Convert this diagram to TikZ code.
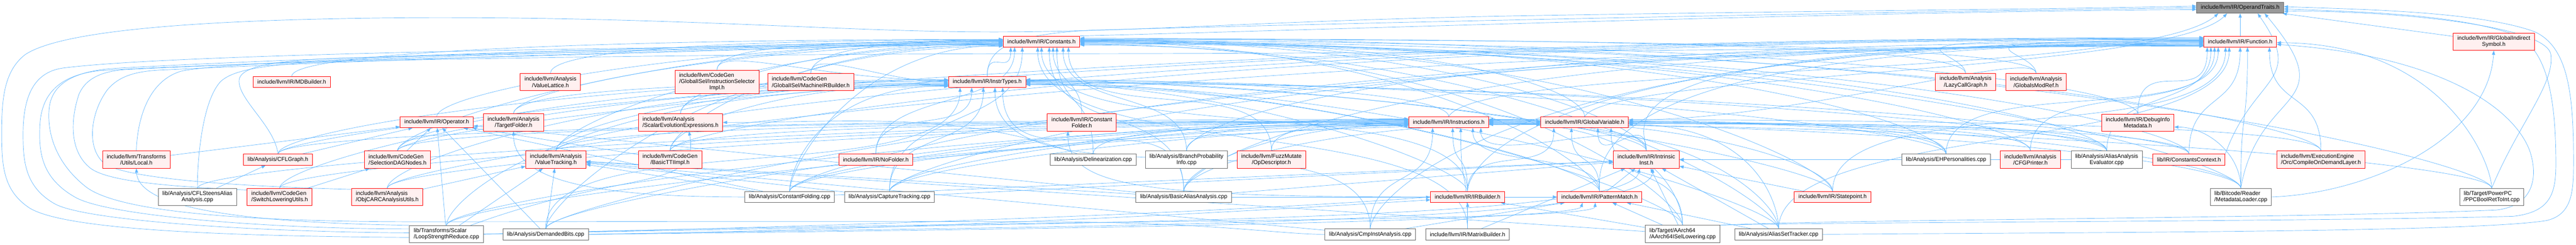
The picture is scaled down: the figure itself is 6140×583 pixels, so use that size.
\documentclass[tikz,border=0pt]{standalone}
\usepackage{fontspec}
\setmainfont{Liberation Sans}
\usetikzlibrary{arrows.meta,calc}
\pgfdeclarelayer{bgfill}
\pgfdeclarelayer{edges}
\pgfsetlayers{bgfill,edges,main}
\definecolor{edgec}{HTML}{63B8FF}
\definecolor{redb}{HTML}{FF0000}
\definecolor{redf}{HTML}{FFF0F0}
\definecolor{grayb}{HTML}{666666}
\definecolor{rootf}{HTML}{999999}
\newcommand\LeftTwo[2]{\rlap{#1}\phantom{#2}\\#2}
\newcommand\EdL[4][500]{\draw[edg] (#2.north) .. controls +(0,-60) and +(-#1,0) .. ($(#3.north west)!#4!(#3.south west)$);}
\newcommand\EdR[4][500]{\draw[edg] (#2.north) .. controls +(0,-60) and +(#1,0) .. ($(#3.north east)!#4!(#3.south east)$);}
\newcommand\EdB[4][100]{\draw[edg] (#2.north) .. controls +(0,-#1) and +(0,#1) .. ($(#3.south west)!#4!(#3.south east)$);}
\newcommand\EdS[2]{\draw[edg] (#1) -- (#2);}
\tikzset{
  box/.style={draw, line width=1.1pt, font=\fontsize{13.4}{15}\selectfont, inner xsep=10pt, inner ysep=0pt, align=center, anchor=center, text=black},
  rn/.style={box, draw=redb, fill=redf},
  gn/.style={box, draw=grayb, fill=white},
  rootn/.style={box, draw=grayb, fill=rootf},
  h1/.style={minimum height=26pt},
  h2/.style={minimum height=41pt},
  h3/.style={minimum height=56pt},
  edg/.style={draw=edgec, line width=0.85pt, -{Triangle[length=10pt,width=7.5pt]}}
}
\begin{document}
\begin{tikzpicture}[x=1pt,y=-1pt]
\begin{pgfonlayer}{bgfill}
\fill[white] (0,0) rectangle (6140,583);
\end{pgfonlayer}
\useasboundingbox (0,0) rectangle (6140,583);
% row 0-1
\node[rootn,h1] (OT) at (5339.5,18.5) {include/llvm/IR/OperandTraits.h};
\node[rn,h1] (CON) at (2482.5,99) {include/llvm/IR/Constants.h};
\node[rn,h1] (FUN) at (5339.5,99) {include/llvm/IR/Function.h};
\node[rn,h2] (GIS) at (5944,99.5) {include/llvm/IR/GlobalIndirect\\Symbol.h};
% row 2
\node[rn,h1] (MDB) at (695.5,195) {include/llvm/IR/MDBuilder.h};
\node[rn,h2] (VL) at (1312,195.5) {include/llvm/Analysis\\/ValueLattice.h};
\node[rn,h3] (ISI) at (1709,195) {\LeftTwo{include/llvm/CodeGen}{/GlobalISel/InstructionSelector}\\Impl.h};
\node[rn,h2] (MIB) at (1932.5,195.5) {\LeftTwo{include/llvm/CodeGen}{/GlobalISel/MachineIRBuilder.h}};
\node[rn,h1] (IT) at (2353,195) {include/llvm/IR/InstrTypes.h};
\node[rn,h2] (LCG) at (4685,195.5) {include/llvm/Analysis\\/LazyCallGraph.h};
\node[rn,h2] (GMR) at (4853,195.5) {include/llvm/Analysis\\/GlobalsModRef.h};
% row 3
\node[rn,h1] (OP) at (1041,291) {include/llvm/IR/Operator.h};
\node[rn,h2] (TF) at (1224,291.5) {include/llvm/Analysis\\/TargetFolder.h};
\node[rn,h2] (SEE) at (1622,291.5) {\LeftTwo{include/llvm/Analysis}{/ScalarEvolutionExpressions.h}};
\node[rn,h2] (CF) at (2578.5,291.5) {include/llvm/IR/Constant\\Folder.h};
\node[rn,h1] (INS) at (3453,291) {include/llvm/IR/Instructions.h};
\node[rn,h1] (GV) at (3777,291) {include/llvm/IR/GlobalVariable.h};
\node[rn,h2] (DIM) at (5095.5,292) {include/llvm/IR/DebugInfo\\Metadata.h};
% row 4
\node[rn,h2] (LOC) at (325,380) {include/llvm/Transforms\\/Utils/Local.h};
\node[rn,h1] (CFLG) at (662.5,380) {lib/Analysis/CFLGraph.h};
\node[rn,h2] (SDN) at (947.5,380) {\LeftTwo{include/llvm/CodeGen}{/SelectionDAGNodes.h}};
\node[rn,h2] (VT) at (1325,380) {include/llvm/Analysis\\/ValueTracking.h};
\node[rn,h2] (BTI) at (1597,380) {include/llvm/CodeGen\\/BasicTTIImpl.h};
\node[rn,h1] (NF) at (2087.5,380) {include/llvm/IR/NoFolder.h};
\node[gn,h1] (DEL) at (2605.5,380) {lib/Analysis/Delinearization.cpp};
\node[gn,h2] (BPI) at (2828,380) {lib/Analysis/BranchProbability\\Info.cpp};
\node[rn,h2] (OPD) at (3030.5,380) {include/llvm/FuzzMutate\\/OpDescriptor.h};
\node[rn,h2] (II) at (3924,380) {include/llvm/IR/Intrinsic\\Inst.h};
\node[gn,h1] (EHP) at (4638.5,380) {lib/Analysis/EHPersonalities.cpp};
\node[rn,h2] (CFGP) at (4839.5,380) {include/llvm/Analysis\\/CFGPrinter.h};
\node[gn,h2] (AAE) at (5021.5,380) {lib/Analysis/AliasAnalysis\\Evaluator.cpp};
\node[rn,h1] (CC) at (5217.5,380) {lib/IR/ConstantsContext.h};
\node[rn,h2] (COD) at (5532,380) {\LeftTwo{include/llvm/ExecutionEngine}{/Orc/CompileOnDemandLayer.h}};
% row 5
\node[gn,h2] (CFLS) at (470.5,469) {lib/Analysis/CFLSteensAlias\\Analysis.cpp};
\node[rn,h2] (SLU) at (666.5,469) {\LeftTwo{include/llvm/CodeGen}{/SwitchLoweringUtils.h}};
\node[rn,h2] (OBJ) at (923,469) {\LeftTwo{include/llvm/Analysis}{/ObjCARCAnalysisUtils.h}};
\node[gn,h1] (CFD) at (1882,469) {lib/Analysis/ConstantFolding.cpp};
\node[gn,h1] (CT) at (2120,469) {lib/Analysis/CaptureTracking.cpp};
\node[gn,h1] (BAA) at (2821.5,469) {lib/Analysis/BasicAliasAnalysis.cpp};
\node[rn,h1] (IRB) at (3498,469) {include/llvm/IR/IRBuilder.h};
\node[rn,h1] (PM) at (3812.5,469) {include/llvm/IR/PatternMatch.h};
\node[rn,h1] (SP) at (4368,469) {include/llvm/IR/Statepoint.h};
\node[gn,h2] (MDL) at (5341,469) {\LeftTwo{lib/Bitcode/Reader}{/MetadataLoader.cpp}};
\node[gn,h2] (PPC) at (5939,469) {\LeftTwo{lib/Target/PowerPC}{/PPCBoolRetToInt.cpp}};
% row 6
\node[gn,h2] (LSR) at (1064,557.5) {\LeftTwo{lib/Transforms/Scalar}{/LoopStrengthReduce.cpp}};
\node[gn,h1] (DB) at (1300.5,558) {lib/Analysis/DemandedBits.cpp};
\node[gn,h1] (CIA) at (3266,558) {lib/Analysis/CmpInstAnalysis.cpp};
\node[gn,h1] (MXB) at (3498,558) {include/llvm/IR/MatrixBuilder.h};
\node[gn,h2] (AA64) at (4010.5,557) {\LeftTwo{lib/Target/AArch64}{/AArch64ISelLowering.cpp}};
\node[gn,h1] (AST) at (4239.5,558) {lib/Analysis/AliasSetTracker.cpp};

\begin{pgfonlayer}{edges}
% ---- to OperandTraits ----
\draw[edg] (CON.north east) .. controls (3200,70) and (4400,28) .. ($(OT.north west)!0.65!(OT.south west)$);
\EdS{FUN}{OT}
\EdS{GIS}{OT}
\draw[edg] (IT.north) .. controls (2353,120) and (2400,82) .. (2600,72) .. controls (3300,52) and (4500,28) .. ($(OT.north west)!0.5!(OT.south west)$);
\draw[edg] (INS.north) .. controls +(75,-130) and +(-190,160) .. ($(OT.south west)!0.25!(OT.south east)$);
\draw[edg] (GV.north) .. controls +(60,-104) and +(-141,141) .. ($(OT.south west)!0.35!(OT.south east)$);
\draw[edg] (CC.north east) .. controls +(68,-188) and +(115,164) .. ($(OT.south west)!0.7!(OT.south east)$);
\draw[edg] (MDL.north) .. controls +(43,-246) and +(193,230) .. ($(OT.south west)!0.78!(OT.south east)$);
\draw[edg] (PPC.north) .. controls (6000,300) and (6090,200) .. (6080,130) .. controls (6070,60) and (5700,25) .. ($(OT.north east)!0.8!(OT.south east)$);
\draw[edg] (AST.east) .. controls (5000,553) and (5900,553) .. (6070,525) .. controls (6134,510) and (6134,450) .. (6134,380) .. controls (6134,220) and (6120,110) .. (6040,75) .. controls (5900,25) and (5600,22) .. ($(OT.north east)!0.4!(OT.south east)$);
\draw[edg] (AA64.north east) .. controls (4400,528) and (5500,528) .. (5990,515) .. controls (6080,505) and (6092,460) .. (6092,390) .. controls (6092,230) and (6070,120) .. (6000,85) .. controls (5850,30) and (5600,28) .. ($(OT.north east)!0.6!(OT.south east)$);
\draw[edg] (LSR.185) .. controls (500,562) and (150,545) .. (70,495) .. controls (10,455) and (4,400) .. (4,320) .. controls (4,240) and (8,170) .. (60,130) .. controls (150,70) and (500,45) .. (1000,42) .. controls (1600,40) and (2000,75) .. (2350,76) .. controls (2700,77) and (3000,50) .. (3600,38) .. controls (4300,26) and (4900,22) .. ($(OT.north west)!0.35!(OT.south west)$);
% ---- to Constants ----
\draw[edg] (LSR.178) .. controls (600,552) and (200,525) .. (130,485) .. controls (60,445) and (55,385) .. (55,320) .. controls (55,230) and (80,172) .. (150,162) .. controls (400,130) and (1400,112) .. ($(CON.north west)!0.75!(CON.south west)$);
\draw[edg] (CIA.west) .. controls (3050,558) and (2900,530) .. (2500,528) .. controls (1800,526) and (1400,528) .. (1000,528) .. controls (500,528) and (270,495) .. (205,445) .. controls (135,390) and (112,320) .. (117,260) .. controls (122,200) and (175,170) .. (270,163) .. controls (700,138) and (1600,112) .. ($(CON.north west)!0.3!(CON.south west)$);
\draw[edg] (SLU.168) .. controls (430,445) and (260,435) .. (215,400) .. controls (165,360) and (168,285) .. (188,225) .. controls (205,185) and (245,168) .. (310,165) .. controls (800,142) and (1700,110) .. ($(CON.north west)!0.5!(CON.south west)$);
\draw[edg] (OBJ.168) .. controls (620,445) and (310,430) .. (250,390) .. controls (205,355) and (215,270) .. (255,215) .. controls (285,178) and (330,168) .. (400,166) .. controls (900,142) and (1800,112) .. ($(CON.north west)!0.7!(CON.south west)$);
\draw[edg] (LOC.north) .. controls (327,290) and (350,195) .. (430,170) .. controls (520,145) and (1500,112) .. ($(CON.north west)!0.4!(CON.south west)$);
\draw[edg] (CFLG.north) .. controls (655,300) and (565,235) .. (570,190) .. controls (575,150) and (700,140) .. (900,136) .. controls (1500,122) and (2100,105) .. ($(CON.north west)!0.55!(CON.south west)$);
\draw[edg] (CFLS.north) .. controls (470,390) and (480,245) .. (525,195) .. controls (565,155) and (700,146) .. (1000,140) .. controls (1600,126) and (2100,106) .. ($(CON.north west)!0.65!(CON.south west)$);
\EdL[900]{MDB}{CON}{0.3}
\EdL[800]{SDN}{CON}{0.45}
\EdL[700]{OP}{CON}{0.6}
\EdL[600]{TF}{CON}{0.7}
\EdL[600]{VL}{CON}{0.35}
\EdL[400]{ISI}{CON}{0.5}
\EdL[250]{MIB}{CON}{0.4}
\EdL[450]{SEE}{CON}{0.65}
\EdL[600]{VT}{CON}{0.8}
\EdL[500]{BTI}{CON}{0.75}
\EdL[350]{CFD}{CON}{0.85}
\EdL[700]{DB}{CON}{0.9}
\EdB[70]{IT}{CON}{0.1}
\EdB[80]{CF}{CON}{0.65}
\EdB[150]{NF}{CON}{0.15}
\EdB[150]{DEL}{CON}{0.7}
\EdB[150]{BPI}{CON}{0.78}
\EdB[200]{OPD}{CON}{0.85}
\EdB[200]{CT}{CON}{0.25}
\EdB[220]{BAA}{CON}{0.6}
\EdB[250]{IRB}{CON}{0.5}
\EdB[280]{MXB}{CON}{0.45}
\EdR[900]{GV}{CON}{0.3}
\EdR[900]{II}{CON}{0.4}
\EdR[800]{PM}{CON}{0.5}
\EdR[1200]{SP}{CON}{0.35}
\EdR[1500]{EHP}{CON}{0.45}
\EdR[1500]{CFGP}{CON}{0.55}
\EdR[1400]{LCG}{CON}{0.25}
\EdR[1500]{GMR}{CON}{0.3}
\EdR[1700]{AAE}{CON}{0.6}
\EdR[1800]{DIM}{CON}{0.4}
\EdR[1800]{CC}{CON}{0.65}
\EdR[1900]{MDL}{CON}{0.7}
\EdR[2200]{PPC}{CON}{0.2}
\EdR[1000]{AA64}{CON}{0.75}
\EdR[1100]{AST}{CON}{0.8}
\EdR[2000]{COD}{CON}{0.5}
% ---- to Function ----
\draw[edg] (LSR.172) .. controls (650,545) and (260,515) .. (180,470) .. controls (100,425) and (92,365) .. (95,300) .. controls (98,225) and (140,178) .. (240,168) .. controls (700,140) and (1800,128) .. (2480,128) .. controls (3500,128) and (4600,112) .. ($(FUN.north west)!0.8!(FUN.south west)$);
\EdL[900]{LCG}{FUN}{0.35}
\EdL[700]{GMR}{FUN}{0.45}
\EdL[1500]{II}{FUN}{0.55}
\EdL[1600]{IRB}{FUN}{0.6}
\EdL[1500]{PM}{FUN}{0.65}
\EdL[2000]{BPI}{FUN}{0.5}
\EdL[2000]{BAA}{FUN}{0.7}
\EdL[2200]{CT}{FUN}{0.75}
\EdL[2300]{CFD}{FUN}{0.8}
\EdL[2400]{DB}{FUN}{0.85}
\EdL[1700]{CIA}{FUN}{0.4}
\EdL[2400]{BTI}{FUN}{0.3}
\EdL[2500]{VT}{FUN}{0.25}
\EdL[2600]{SDN}{FUN}{0.2}
\EdL[2600]{OBJ}{FUN}{0.9}
\EdL[2700]{CFLG}{FUN}{0.15}
\EdB[150]{DIM}{FUN}{0.05}
\EdB[150]{AAE}{FUN}{0.1}
\EdB[180]{CFGP}{FUN}{0.15}
\EdB[200]{EHP}{FUN}{0.2}
\EdB[250]{SP}{FUN}{0.3}
\EdB[250]{AST}{FUN}{0.35}
\EdB[150]{CC}{FUN}{0.5}
\EdB[200]{MDL}{FUN}{0.6}
\EdB[150]{COD}{FUN}{0.9}
\EdR[400]{PPC}{FUN}{0.6}
\draw[edg] (AA64.north east) .. controls (4400,522) and (5500,520) .. (5950,500) .. controls (6040,490) and (6050,420) .. (6030,360) .. controls (5990,250) and (5800,130) .. ($(FUN.north east)!0.75!(FUN.south east)$);
% ---- to GlobalIndirectSymbol ----
\draw[edg] (MDL.east) .. controls (5650,460) and (5930,330) .. (GIS.south);
% ---- to InstrTypes ----
\EdL[800]{CFLG}{IT}{0.3}
\EdL[700]{SDN}{IT}{0.4}
\EdL[500]{TF}{IT}{0.5}
\EdL[500]{VT}{IT}{0.6}
\EdL[400]{BTI}{IT}{0.7}
\EdL[300]{ISI}{IT}{0.35}
\EdL[150]{MIB}{IT}{0.5}
\EdL[400]{SEE}{IT}{0.65}
\EdL[800]{OBJ}{IT}{0.75}
\EdL[900]{SLU}{IT}{0.8}
\EdL[300]{CFD}{IT}{0.85}
\EdL[900]{LSR}{IT}{0.9}
\EdB[120]{NF}{IT}{0.3}
\EdB[150]{CT}{IT}{0.45}
\EdB[250]{BAA}{IT}{0.7}
\EdB[300]{CIA}{IT}{0.6}
\EdB[250]{DB}{IT}{0.15}
\EdR[400]{INS}{IT}{0.3}
\EdR[600]{II}{IT}{0.45}
\EdR[600]{PM}{IT}{0.55}
\EdR[500]{IRB}{IT}{0.65}
\EdR[900]{SP}{IT}{0.4}
\EdR[900]{AST}{IT}{0.7}
\EdR[800]{AA64}{IT}{0.75}
\EdR[1200]{AAE}{IT}{0.5}
\EdR[1100]{EHP}{IT}{0.35}
\EdR[1400]{CC}{IT}{0.6}
% ---- to Instructions ----
\EdL[900]{DB}{INS}{0.3}
\EdL[1200]{CFLS}{INS}{0.35}
\EdL[1100]{CFLG}{INS}{0.25}
\EdL[1000]{SDN}{INS}{0.4}
\EdL[1100]{SLU}{INS}{0.45}
\EdL[800]{BTI}{INS}{0.5}
\EdL[700]{CFD}{INS}{0.55}
\EdL[600]{CT}{INS}{0.6}
\EdL[300]{BAA}{INS}{0.7}
\EdL[400]{DEL}{INS}{0.65}
\EdL[300]{BPI}{INS}{0.75}
\EdL[1000]{OBJ}{INS}{0.5}
\EdL[900]{VT}{INS}{0.45}
\EdL[200]{OPD}{INS}{0.8}
\EdL[1000]{LSR}{INS}{0.6}
\draw[edg] (NF.east) .. controls +(500,-40) and +(-500,0) .. ($(INS.north west)!0.2!(INS.south west)$);
\EdB[100]{IRB}{INS}{0.55}
\EdB[100]{PM}{INS}{0.8}
\EdB[100]{II}{INS}{0.9}
\EdB[150]{CIA}{INS}{0.3}
\EdB[150]{MXB}{INS}{0.65}
\EdR[500]{SP}{INS}{0.3}
\EdR[500]{AST}{INS}{0.4}
\EdR[400]{AA64}{INS}{0.5}
\EdR[800]{AAE}{INS}{0.6}
\EdR[700]{EHP}{INS}{0.35}
\EdR[800]{CFGP}{INS}{0.55}
\EdR[1000]{MDL}{INS}{0.65}
\EdR[1200]{PPC}{INS}{0.7}
\EdR[900]{CC}{INS}{0.45}
\EdR[1100]{COD}{INS}{0.25}
% ---- to GlobalVariable ----
\EdL[800]{CFD}{GV}{0.4}
\EdL[500]{BAA}{GV}{0.6}
\EdL[1000]{LSR}{GV}{0.7}
\EdL[700]{CT}{GV}{0.5}
\EdB[120]{IRB}{GV}{0.15}
\EdB[100]{PM}{GV}{0.35}
\EdB[100]{II}{GV}{0.65}
\EdB[150]{AA64}{GV}{0.8}
\EdR[800]{MDL}{GV}{0.4}
\EdR[400]{GMR}{GV}{0.3}
\EdR[300]{AST}{GV}{0.7}
\EdR[500]{EHP}{GV}{0.5}
\EdR[700]{AAE}{GV}{0.6}
% ---- to DebugInfoMetadata ----
\draw[edg] (MDL.north) .. controls +(0,-80) and +(80,0) .. ($(DIM.north east)!0.75!(DIM.south east)$);
% ---- to Operator ----
\EdS{LOC}{OP}
\EdS{CFLG}{OP}
\EdS{SDN}{OP}
\EdS{LSR}{OP}
\EdS{DB}{OP}
\EdS{CFD}{OP}
\EdS{BAA}{OP}
\EdS{BTI}{OP}
% ---- to TargetFolder / SCEV ----
\draw[edg] (CFD.west) .. controls +(-350,0) and +(0,120) .. (TF.south);
\draw[edg] (DEL.160) .. controls +(-282,-103) and +(300,0) .. (SEE.east);
\draw[edg] (LSR.20) .. controls +(376,-137) and +(26,145) .. ($(SEE.south west)!0.6!(SEE.south east)$);
% ---- to ValueTracking ----
\EdS{OBJ}{VT}
\EdS{DB}{VT}
\EdS{CFD}{VT}
\EdS{CT}{VT}
\EdS{BAA}{VT}
\EdS{CIA}{VT}
\EdS{AA64}{VT}
\EdS{LSR}{VT}
% ---- Local, CFLGraph, SelectionDAGNodes ----
\draw[edg] (LSR.north west) .. controls (600,530) and (330,500) .. (LOC.south);
\EdS{CFLS}{CFLG}
\EdS{SLU}{SDN}
% ---- to IntrinsicInst ----
\EdS{CFD}{II}
\EdS{BAA}{II}
\EdS{CT}{II}
\EdS{SP}{II}
\EdS{AST}{II}
\EdS{AA64}{II}
\EdS{EHP}{II}
\EdS{AAE}{II}
\EdS{PM}{II}
\EdS{MXB}{II}
\draw[edg] (DB.east) .. controls (2600,535) and (3930,540) .. ($(II.south west)!0.6!(II.south east)$);
\draw[edg] (LSR.east) .. controls (2500,528) and (3880,532) .. ($(II.south west)!0.4!(II.south east)$);
% ---- to PatternMatch ----
\draw[edg] (LSR.east) .. controls (2500,520) and (3800,530) .. ($(PM.south west)!0.45!(PM.south east)$);
\draw[edg] (DB.east) .. controls (2600,545) and (3760,525) .. ($(PM.south west)!0.3!(PM.south east)$);
\EdS{CIA}{PM}
\EdS{BAA}{PM}
\EdS{AA64}{PM}
\EdS{AST}{PM}
% ---- to IRBuilder ----
\EdS{MXB}{IRB}
\EdS{AA64}{IRB}
\draw[edg] (LSR.east) .. controls (2200,535) and (3000,500) .. (IRB.west);
\draw[edg] (DB.east) .. controls (2300,545) and (3100,495) .. ($(IRB.north west)!0.75!(IRB.south west)$);
% ---- to ConstantFolder ----
\draw[edg] (IRB.west) .. controls +(-700,0) and +(0,130) .. ($(CF.south west)!0.3!(CF.south east)$);
\end{pgfonlayer}
\end{tikzpicture}
\end{document}
